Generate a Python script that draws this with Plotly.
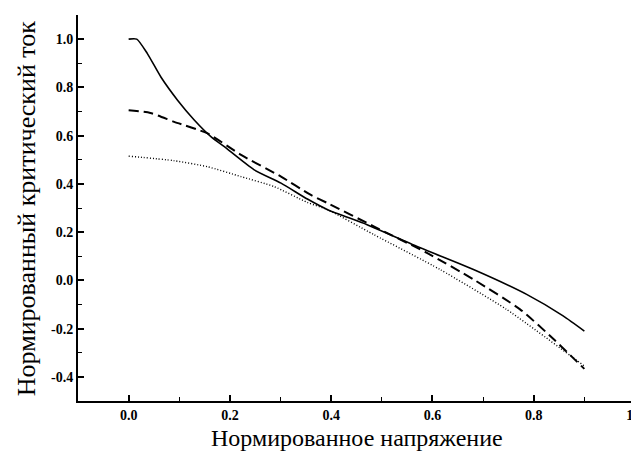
import plotly.graph_objects as go

# Solid curve
x_solid = [0.0, 0.016, 0.037, 0.064, 0.097, 0.130, 0.163, 0.189, 0.248, 0.301, 0.353, 0.393, 0.471, 0.576, 0.681, 0.786, 0.858, 0.9]
y_solid = [1.0, 1.0, 0.94, 0.842, 0.746, 0.664, 0.595, 0.554, 0.458, 0.403, 0.337, 0.293, 0.231, 0.135, 0.045, -0.058, -0.147, -0.21]

# Dashed curve
x_dash = [0.0, 0.043, 0.090, 0.156, 0.222, 0.301, 0.359, 0.393, 0.484, 0.589, 0.681, 0.773, 0.839, 0.9]
y_dash = [0.705, 0.694, 0.657, 0.609, 0.520, 0.430, 0.355, 0.320, 0.224, 0.114, 0.004, -0.120, -0.243, -0.367]

# Dotted curve
x_dot = [0.0, 0.090, 0.156, 0.222, 0.287, 0.353, 0.393, 0.484, 0.615, 0.746, 0.9]
y_dot = [0.515, 0.496, 0.471, 0.430, 0.389, 0.323, 0.293, 0.190, 0.045, -0.120, -0.355]

x_ticks = [0.0, 0.2, 0.4, 0.6, 0.8, 1.0]
y_ticks = [-0.4, -0.2, 0.0, 0.2, 0.4, 0.6, 0.8, 1.0]

serif = "Liberation Serif"

fig = go.Figure()
fig.add_trace(go.Scatter(x=x_solid, y=y_solid, mode="lines", line=dict(color="black", width=1.6, shape="spline", smoothing=0.6), showlegend=False))
fig.add_trace(go.Scatter(x=x_dash, y=y_dash, mode="lines", line=dict(color="black", width=2, dash="10px,5px", shape="spline", smoothing=0.6), showlegend=False))
fig.add_trace(go.Scatter(x=x_dot, y=y_dot, mode="lines", line=dict(color="black", width=1.4, dash="1px,2px", shape="spline", smoothing=0.6), showlegend=False))

axis_common = dict(
    showline=True, linecolor="black", linewidth=2, mirror=False,
    ticks="inside", ticklen=6, tickwidth=1.5, tickcolor="black",
    showgrid=False, zeroline=False, automargin=False,
    tickfont=dict(family=serif, size=14, color="black", weight="bold"),
    minor=dict(ticks="inside", ticklen=4, tickwidth=1.2, tickcolor="black", dtick=0.1, showgrid=False),
)

fig.update_layout(
    width=639, height=452,
    margin=dict(l=70, r=12, t=7, b=59, autoexpand=False),
    paper_bgcolor="white", plot_bgcolor="white",
    xaxis=dict(range=[-0.1, 1.0], tickvals=x_ticks, ticktext=[f"{v:.1f}" for v in x_ticks], **axis_common),
    yaxis=dict(range=[-0.5, 1.1], tickvals=y_ticks, ticktext=[f"{v:.1f}" for v in y_ticks], **axis_common),
    font=dict(family=serif, color="black"),
)

fig.add_annotation(text="Нормированное напряжение", xref="paper", yref="paper",
                   x=0.5, y=-0.097, xanchor="center", yanchor="middle", showarrow=False,
                   font=dict(family=serif, size=24, color="black"))
fig.add_annotation(text="Нормированный критический ток", xref="paper", yref="paper",
                   x=-0.093, y=0.5, xanchor="center", yanchor="middle", showarrow=False, textangle=-90,
                   font=dict(family=serif, size=26, color="black"))

fig.write_html("out.html")
